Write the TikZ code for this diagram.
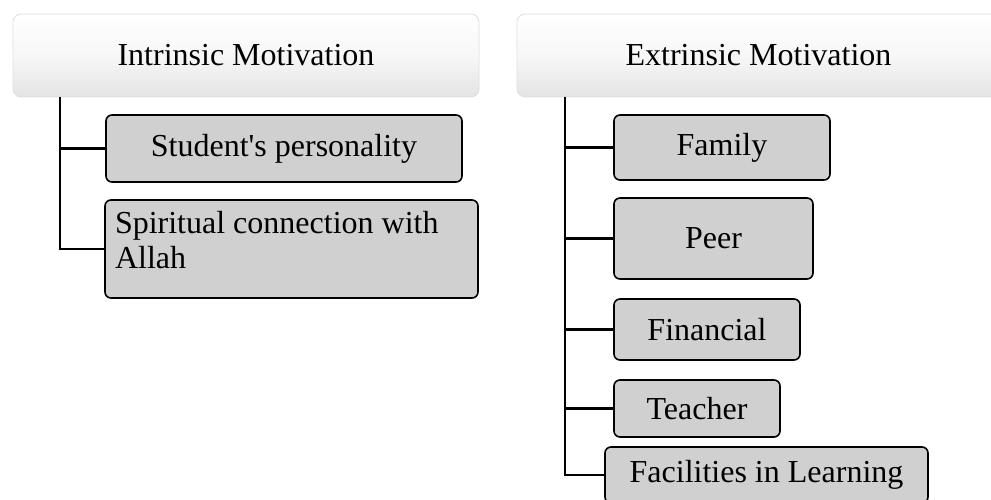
\documentclass[tikz,border=0pt]{standalone}
\usepackage{fontspec}
\setmainfont{Liberation Serif}[Ligatures=TeXOff]
\definecolor{boxgray}{RGB}{208,208,208}
\definecolor{hdrgray}{RGB}{228,228,228}
\definecolor{hdrline}{RGB}{222,222,222}
\begin{document}
\begin{tikzpicture}[x=1pt,y=-1pt,
  hdr/.style={draw=hdrline, line width=0.8pt, rounded corners=8pt,
    top color=white, bottom color=hdrgray, middle color=white!70!hdrgray,
    minimum height=83pt, inner sep=0pt, font=\fontsize{32}{35}\selectfont},
  item/.style={draw=black, line width=1.6pt, rounded corners=6pt,
    fill=boxgray, inner sep=0pt, font=\fontsize{32}{35}\selectfont},
  conn/.style={line width=2.2pt}]
\clip (0,0) rectangle (991,500);
\fill[white] (0,0) rectangle (991,500);
% headers
\node[hdr, minimum width=466pt] (h1) at (246,55.5) {Intrinsic Motivation};
\node[hdr, minimum width=483pt] (h2) at (758.5,55.5) {Extrinsic Motivation};
% left items
\node[item, minimum width=356pt, minimum height=67pt] (a1) at (284,148.5) {Student's personality};
\node[item, minimum width=373pt, minimum height=98pt, inner xsep=10pt, inner ysep=11pt] (a2) at (291.5,249)
  {\parbox[c][76pt][t]{353pt}{\raggedright Spiritual connection with\\Allah}};
% right items
\node[item, minimum width=216pt, minimum height=65pt] (b1) at (722,147.5) {Family};
\node[item, minimum width=199pt, minimum height=81pt] (b2) at (713.5,238.5) {Peer};
\node[item, minimum width=186pt, minimum height=61pt] (b3) at (707,329.5) {Financial};
\node[item, minimum width=166pt, minimum height=57pt] (b4) at (697,408.5) {Teacher};
\node[item, minimum width=323pt, minimum height=56pt] (b5) at (766.5,475) {Facilities in Learning};
% connectors
\coordinate (tl) at (60,97);
\coordinate (tr) at (565,97);
\draw[conn] (tl) |- (a1.west);
\draw[conn] (tl) |- (a2.west);
\draw[conn] (tr) |- (b1.west);
\draw[conn] (tr) |- (b2.west);
\draw[conn] (tr) |- (b3.west);
\draw[conn] (tr) |- (b4.west);
\draw[conn] (tr) |- (b5.west);
\end{tikzpicture}
\end{document}
